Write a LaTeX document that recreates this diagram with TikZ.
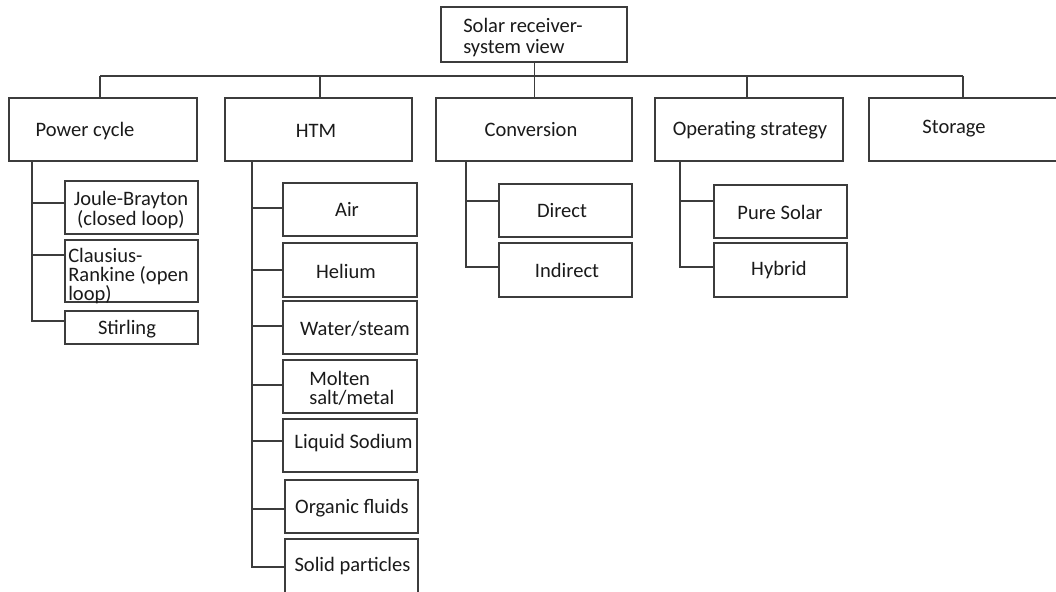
\documentclass[tikz,border=0pt]{standalone}
\usepackage{fontspec}
\setmainfont{Carlito}
\definecolor{linec}{HTML}{3C3C3C}
\definecolor{textc}{HTML}{1A1A1A}
\tikzset{
  box/.style={draw=linec, line width=1pt, rectangle, inner sep=0pt, fill=white},
  lbl/.style={inner sep=0pt, text=textc, font=\fontsize{15.4}{15.3}\selectfont, align=center, yshift=-1.5pt},
  conn/.style={draw=linec, line width=1pt},
}
% \mkboxx[text options]{name}{x1}{y1}{x2}{y2}{tx}{ty}{text}
\newcommand\mkboxx[9][]{%
  \node[box, minimum width={(#5-#3)*0.75pt}, minimum height={(#6-#4)*0.75pt}] (#2) at ({(#3+#5)/2},{(#4+#6)/2}) {};
  \node[lbl,#1] (#2-t) at (#7,#8) {#9};}
\begin{document}
\begin{tikzpicture}[x=0.75pt, y=-0.75pt]
\useasboundingbox (0,0) rectangle (1056,592);
\clip (0,0) rectangle (1056,592);
% root
\mkboxx[anchor=west, align=left]{root}{441}{7}{627}{62}{463}{35.5}{Solar receiver-\\system view}
% level 1
\mkboxx{pc}{9}{98}{197}{161}{85}{129}{Power cycle}
\mkboxx{htm}{225}{98}{412}{161}{316}{129}{HTM}
\mkboxx{conv}{436}{98}{632}{161}{531}{128}{Conversion}
\mkboxx{op}{655}{98}{843}{161}{750}{128}{Operating strategy}
\mkboxx{st}{869}{98}{1070}{161}{954}{127}{Storage}
% power cycle children
\mkboxx{jb}{65}{181}{198}{234}{131}{208}{Joule-Brayton\\(closed loop)}
\mkboxx[anchor=west, align=left, font=\fontsize{15.4}{14}\selectfont]{cr}{65}{240}{198}{302}{68}{274}{Clausius-\\Rankine (open\\loop)}
\mkboxx{sti}{65}{311}{198}{344}{127}{327}{Stirling}
% HTM children
\mkboxx{air}{283}{183}{417}{236}{347}{207}{Air}
\mkboxx{he}{283}{243}{417}{297}{346}{269}{Helium}
\mkboxx{ws}{283}{301}{417}{354}{355}{327}{Water/steam}
\mkboxx[anchor=west, align=left, font=\fontsize{15.4}{14.3}\selectfont]{ms}{283}{360}{417}{413}{309}{386.5}{Molten\\salt/metal}
\mkboxx{ls}{283}{419}{417}{472}{353.5}{441}{Liquid Sodium}
\mkboxx{of}{285}{480}{418}{533}{352}{506}{Organic fluids}
\mkboxx{sp}{285}{539}{418}{600}{352.5}{564}{Solid particles}
% conversion children
\mkboxx{di}{499}{184}{632}{237}{562}{209}{Direct}
\mkboxx{ind}{499}{243}{632}{297}{567}{268}{Indirect}
% operating strategy children
\mkboxx{ps}{714}{185}{847}{238}{780}{210}{Pure Solar}
\mkboxx{hy}{714}{243}{847}{297}{779}{268}{Hybrid}
% bus
\coordinate (d1) at (100,76);
\coordinate (d2) at (320,76);
\coordinate (d3) at (534.7,76);
\coordinate (d4) at (747,76);
\coordinate (d5) at (963,76);
\draw[conn] (root.south -| d3) -- (d3);
\draw[conn] (d1) -- (d5);
\draw[conn] (d1) -- (d1 |- pc.north);
\draw[conn] (d2) -- (d2 |- htm.north);
\draw[conn] (d3) -- (d3 |- conv.north);
\draw[conn] (d4) -- (d4 |- op.north);
\draw[conn] (d5) -- (d5 |- st.north);
% power cycle tree
\coordinate (p1) at (32,203);
\coordinate (p2) at (32,255);
\coordinate (p3) at (32,321);
\draw[conn] (pc.south -| p3) -- (p3) -- (p3 -| sti.west);
\draw[conn] (p1) -- (p1 -| jb.west);
\draw[conn] (p2) -- (p2 -| cr.west);
% HTM tree
\coordinate (h1) at (252,208);
\coordinate (h2) at (252,270);
\coordinate (h3) at (252,326);
\coordinate (h4) at (252,385);
\coordinate (h5) at (252,441);
\coordinate (h6) at (252,509);
\coordinate (h7) at (252,567);
\draw[conn] (htm.south -| h7) -- (h7) -- (h7 -| sp.west);
\draw[conn] (h1) -- (h1 -| air.west);
\draw[conn] (h2) -- (h2 -| he.west);
\draw[conn] (h3) -- (h3 -| ws.west);
\draw[conn] (h4) -- (h4 -| ms.west);
\draw[conn] (h5) -- (h5 -| ls.west);
\draw[conn] (h6) -- (h6 -| of.west);
% conversion tree
\coordinate (c1) at (466,201);
\coordinate (c2) at (466,267);
\draw[conn] (conv.south -| c2) -- (c2) -- (c2 -| ind.west);
\draw[conn] (c1) -- (c1 -| di.west);
% operating strategy tree
\coordinate (o1) at (680,201);
\coordinate (o2) at (680,267);
\draw[conn] (op.south -| o2) -- (o2) -- (o2 -| hy.west);
\draw[conn] (o1) -- (o1 -| ps.west);
\end{tikzpicture}
\end{document}
